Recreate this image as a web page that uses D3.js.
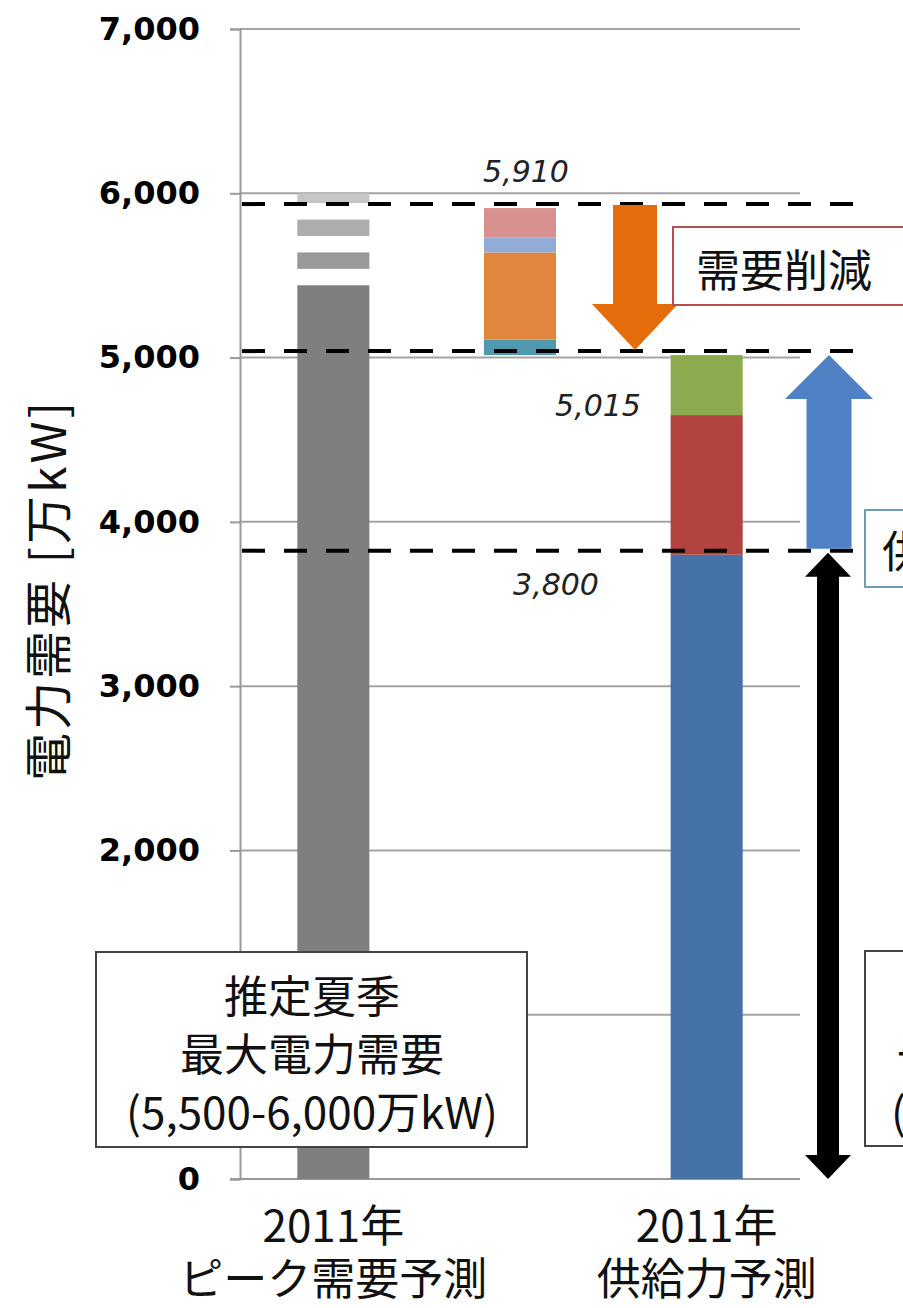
<!DOCTYPE html>
<html>
<head>
<meta charset="utf-8">
<script src="https://cdn.jsdelivr.net/npm/d3@7/dist/d3.min.js"></script>
<style>
  html, body { margin: 0; padding: 0; background: #fff; }
  svg { display: block; }
</style>
</head>
<body>
<svg id="chart" width="903" height="1308"></svg>
<script>
// ---- data (万kW) ----
const yTicks = [0, 1000, 2000, 3000, 4000, 5000, 6000, 7000];
const categories = ["peak", "cut", "supply"];
const categoryLines = [["2011年", "ピーク需要予測"], [], ["2011年", "供給力予測"]];

// estimated summer peak demand, range 5,500-6,000 shown as fading bands
const peakSegments = [[0, 5440], [5540, 5640], [5740, 5840], [5940, 6000]];
// demand reduction components, stacked from 5,015 up to 5,910
const cutSegments = [[5015, 5110], [5110, 5640], [5640, 5730], [5730, 5910]];
// supply capacity components
const supplySegments = [[0, 3800], [3800, 4650], [4650, 5015]];

const levels = [5910, 5015, 3800];
const levelLabels = ["5,910", "5,015", "3,800"];

const peakColors = ["#7f7f7f", "#999999", "#adadad", "#c6c6c6"];
const cutColors = ["#4f98ae", "#e3863d", "#93acd7", "#d8918f"];
const supplyColors = ["#4672aa", "#b2433f", "#8cab4f"];

// ---- layout ----
const svg = d3.select("#chart");
const plot = { left: 240, right: 800, top: 29, bottom: 1179 };

const y = d3.scaleLinear().domain([0, 7000]).range([plot.bottom, plot.top]);
const x = d3.scaleBand().domain(categories)
  .range([plot.left, plot.right])
  .paddingInner(0.614).paddingOuter(0.307);

const cjk = "'Noto Sans CJK JP', 'Noto Sans', sans-serif";

// gridlines
svg.append("g")
  .selectAll("line").data(yTicks.filter(d => d > 0)).join("line")
  .attr("x1", plot.left).attr("x2", plot.right)
  .attr("y1", d => y(d)).attr("y2", d => y(d))
  .attr("stroke", "#a3a3a3").attr("stroke-width", 2);

// y axis
const yAxis = svg.append("g")
  .attr("transform", `translate(${plot.left},0)`)
  .call(d3.axisLeft(y).tickValues(yTicks).tickSize(10).tickPadding(8)
    .tickFormat(d3.format(",")));
yAxis.select(".domain").attr("stroke", "#999").attr("stroke-width", 2);
yAxis.selectAll(".tick line").attr("stroke", "#999").attr("stroke-width", 2);
yAxis.selectAll(".tick text")
  .attr("fill", "#000")
  .style("font-family", "'DejaVu Sans', sans-serif")
  .style("font-weight", "bold")
  .style("font-size", "32px")
  .attr("x", -40);

// x baseline
svg.append("line")
  .attr("x1", plot.left - 10).attr("x2", plot.right)
  .attr("y1", y(0)).attr("y2", y(0))
  .attr("stroke", "#999").attr("stroke-width", 2);

// bars
function drawStack(cat, segs, colors) {
  svg.append("g").selectAll("rect").data(segs).join("rect")
    .attr("x", x(cat)).attr("width", x.bandwidth())
    .attr("y", d => y(d[1]))
    .attr("height", d => y(d[0]) - y(d[1]))
    .attr("fill", (d, i) => colors[i]);
}
drawStack("peak", peakSegments, peakColors);
drawStack("cut", cutSegments, cutColors);
drawStack("supply", supplySegments, supplyColors);

// dashed reference levels
svg.append("g").selectAll("line").data(levels).join("line")
  .attr("x1", 242).attr("x2", 856)
  .attr("y1", d => y(d) - 4).attr("y2", d => y(d) - 4)
  .attr("stroke", "#000").attr("stroke-width", 4)
  .attr("stroke-dasharray", "23,19");

// level labels
const labelPos = [[526, -37], [598, 50], [556, 30]];
svg.append("g").selectAll("text").data(levels).join("text")
  .attr("x", (d, i) => labelPos[i][0])
  .attr("y", (d, i) => y(d) + labelPos[i][1])
  .attr("text-anchor", "middle").attr("dominant-baseline", "central")
  .style("font-family", "'DejaVu Sans', sans-serif")
  .style("font-style", "italic")
  .style("font-size", "30px")
  .attr("fill", "#222")
  .text((d, i) => levelLabels[i]);

// block arrow: shaft from yFrom to tip at yTo
function blockArrow(cx, yFrom, yTo, shaftW, headW, headH, fill) {
  const dir = yTo > yFrom ? 1 : -1;
  const base = yTo - dir * headH;
  const p = d3.path();
  p.moveTo(cx - shaftW / 2, yFrom);
  p.lineTo(cx + shaftW / 2, yFrom);
  p.lineTo(cx + shaftW / 2, base);
  p.lineTo(cx + headW / 2, base);
  p.lineTo(cx, yTo);
  p.lineTo(cx - headW / 2, base);
  p.lineTo(cx - shaftW / 2, base);
  p.closePath();
  svg.append("path").attr("d", p.toString()).attr("fill", fill);
}
// demand reduction (down) and supply increase (up)
blockArrow(635, y(levels[0]) - 3, y(levels[1]) - 5, 44, 86, 46, "#e46c0a");
blockArrow(829, y(levels[2]) - 6, y(levels[1]), 45, 88, 44, "#4f81c4");

// double-headed arrow for existing supply
(function () {
  const cx = 828, sw = 22, hw = 46, hh = 24;
  const top = y(levels[2]) - 2, bot = y(0);
  const p = d3.path();
  p.moveTo(cx, top);
  p.lineTo(cx + hw / 2, top + hh);
  p.lineTo(cx + sw / 2, top + hh);
  p.lineTo(cx + sw / 2, bot - hh);
  p.lineTo(cx + hw / 2, bot - hh);
  p.lineTo(cx, bot);
  p.lineTo(cx - hw / 2, bot - hh);
  p.lineTo(cx - sw / 2, bot - hh);
  p.lineTo(cx - sw / 2, top + hh);
  p.lineTo(cx - hw / 2, top + hh);
  p.closePath();
  svg.append("path").attr("d", p.toString()).attr("fill", "#000");
})();

// callout boxes
function callout(x0, y0, w, h, stroke, lines, tx, anchor, lineYs) {
  svg.append("rect").attr("x", x0).attr("y", y0).attr("width", w).attr("height", h)
    .attr("fill", "#fff").attr("stroke", stroke).attr("stroke-width", 2);
  const t = svg.append("g");
  lines.forEach((s, i) => {
    t.append("text")
      .attr("x", Array.isArray(tx) ? tx[i] : tx).attr("y", lineYs[i])
      .attr("text-anchor", anchor).attr("dominant-baseline", "central")
      .style("font-family", cjk).style("font-size", "44px")
      .attr("fill", "#111").text(s);
  });
}
callout(96, 952, 431, 195, "#444",
  ["推定夏季", "最大電力需要", "(5,500-6,000万kW)"], 312, "middle", [994, 1052, 1110]);
callout(673, 227, 260, 78, "#b5504e", ["需要削減"], 696, "start", [268]);
callout(865, 510, 300, 77, "#6f9cb0", ["供給力増加"], 882, "start", [549]);
callout(865, 951, 430, 195, "#444",
  ["震災後の", "一般供給力", "(3,800万kW)"], [940, 897, 891], "start", [994, 1052, 1110]);

// category labels
const catG = svg.append("g");
categories.forEach((c, i) => {
  categoryLines[i].forEach((s, j) => {
    catG.append("text")
      .attr("x", x(c) + x.bandwidth() / 2)
      .attr("y", 1223 + j * 53)
      .attr("text-anchor", "middle").attr("dominant-baseline", "central")
      .style("font-family", cjk).style("font-size", "44px")
      .attr("fill", "#111").text(s);
  });
});

// y axis title
svg.append("text")
  .attr("transform", "translate(45,590) rotate(-90)")
  .attr("text-anchor", "middle").attr("dominant-baseline", "central")
  .style("font-family", cjk).style("font-size", "48px")
  .style("letter-spacing", "3px")
  .attr("fill", "#111")
  .text("電力需要 [万kW]");
</script>
</body>
</html>
